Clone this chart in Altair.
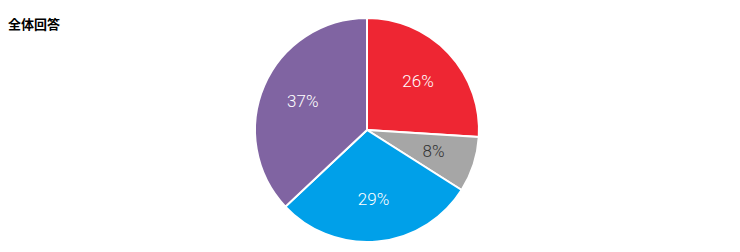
import altair as alt
import pandas as pd

categories = ["A", "B", "C", "D"]
values = [26, 8, 29, 37]
colors = ["#EE2633", "#A6A6A6", "#00A0E9", "#8064A2"]

df = pd.DataFrame({"category": categories, "value": values, "idx": list(range(len(values)))})

base = alt.Chart(df).encode(
    theta=alt.Theta("value:Q", stack=True),
    order=alt.Order("idx:Q", sort="ascending"),
    x=alt.value(367),
    y=alt.value(130),
)

arcs = base.mark_arc(outerRadius=112, stroke="white", strokeWidth=2).encode(
    color=alt.Color("category:N", scale=alt.Scale(domain=categories, range=colors), legend=None)
)

labels = base.transform_calculate(
    label="datum.value + '%'"
).mark_text(radius=70, fontSize=17, font="Roboto", fontWeight=300).encode(
    text="label:N",
    color=alt.condition(alt.datum.value < 10, alt.value("#333333"), alt.value("white")),
)

chart = alt.layer(arcs, labels).properties(
    width=740,
    height=252,
    autosize=alt.AutoSizeParams(type="none"),
    padding=0,
    title=alt.TitleParams(
        "全体回答", anchor="start", frame="group", orient="top", offset=0,
        baseline="middle", dx=8, dy=38, fontSize=13, fontWeight="bold",
        font="Noto Sans CJK JP", color="#000000",
    ),
).configure_view(stroke=None)

chart.save("out.html", embed_options={"renderer": "svg", "actions": False})
